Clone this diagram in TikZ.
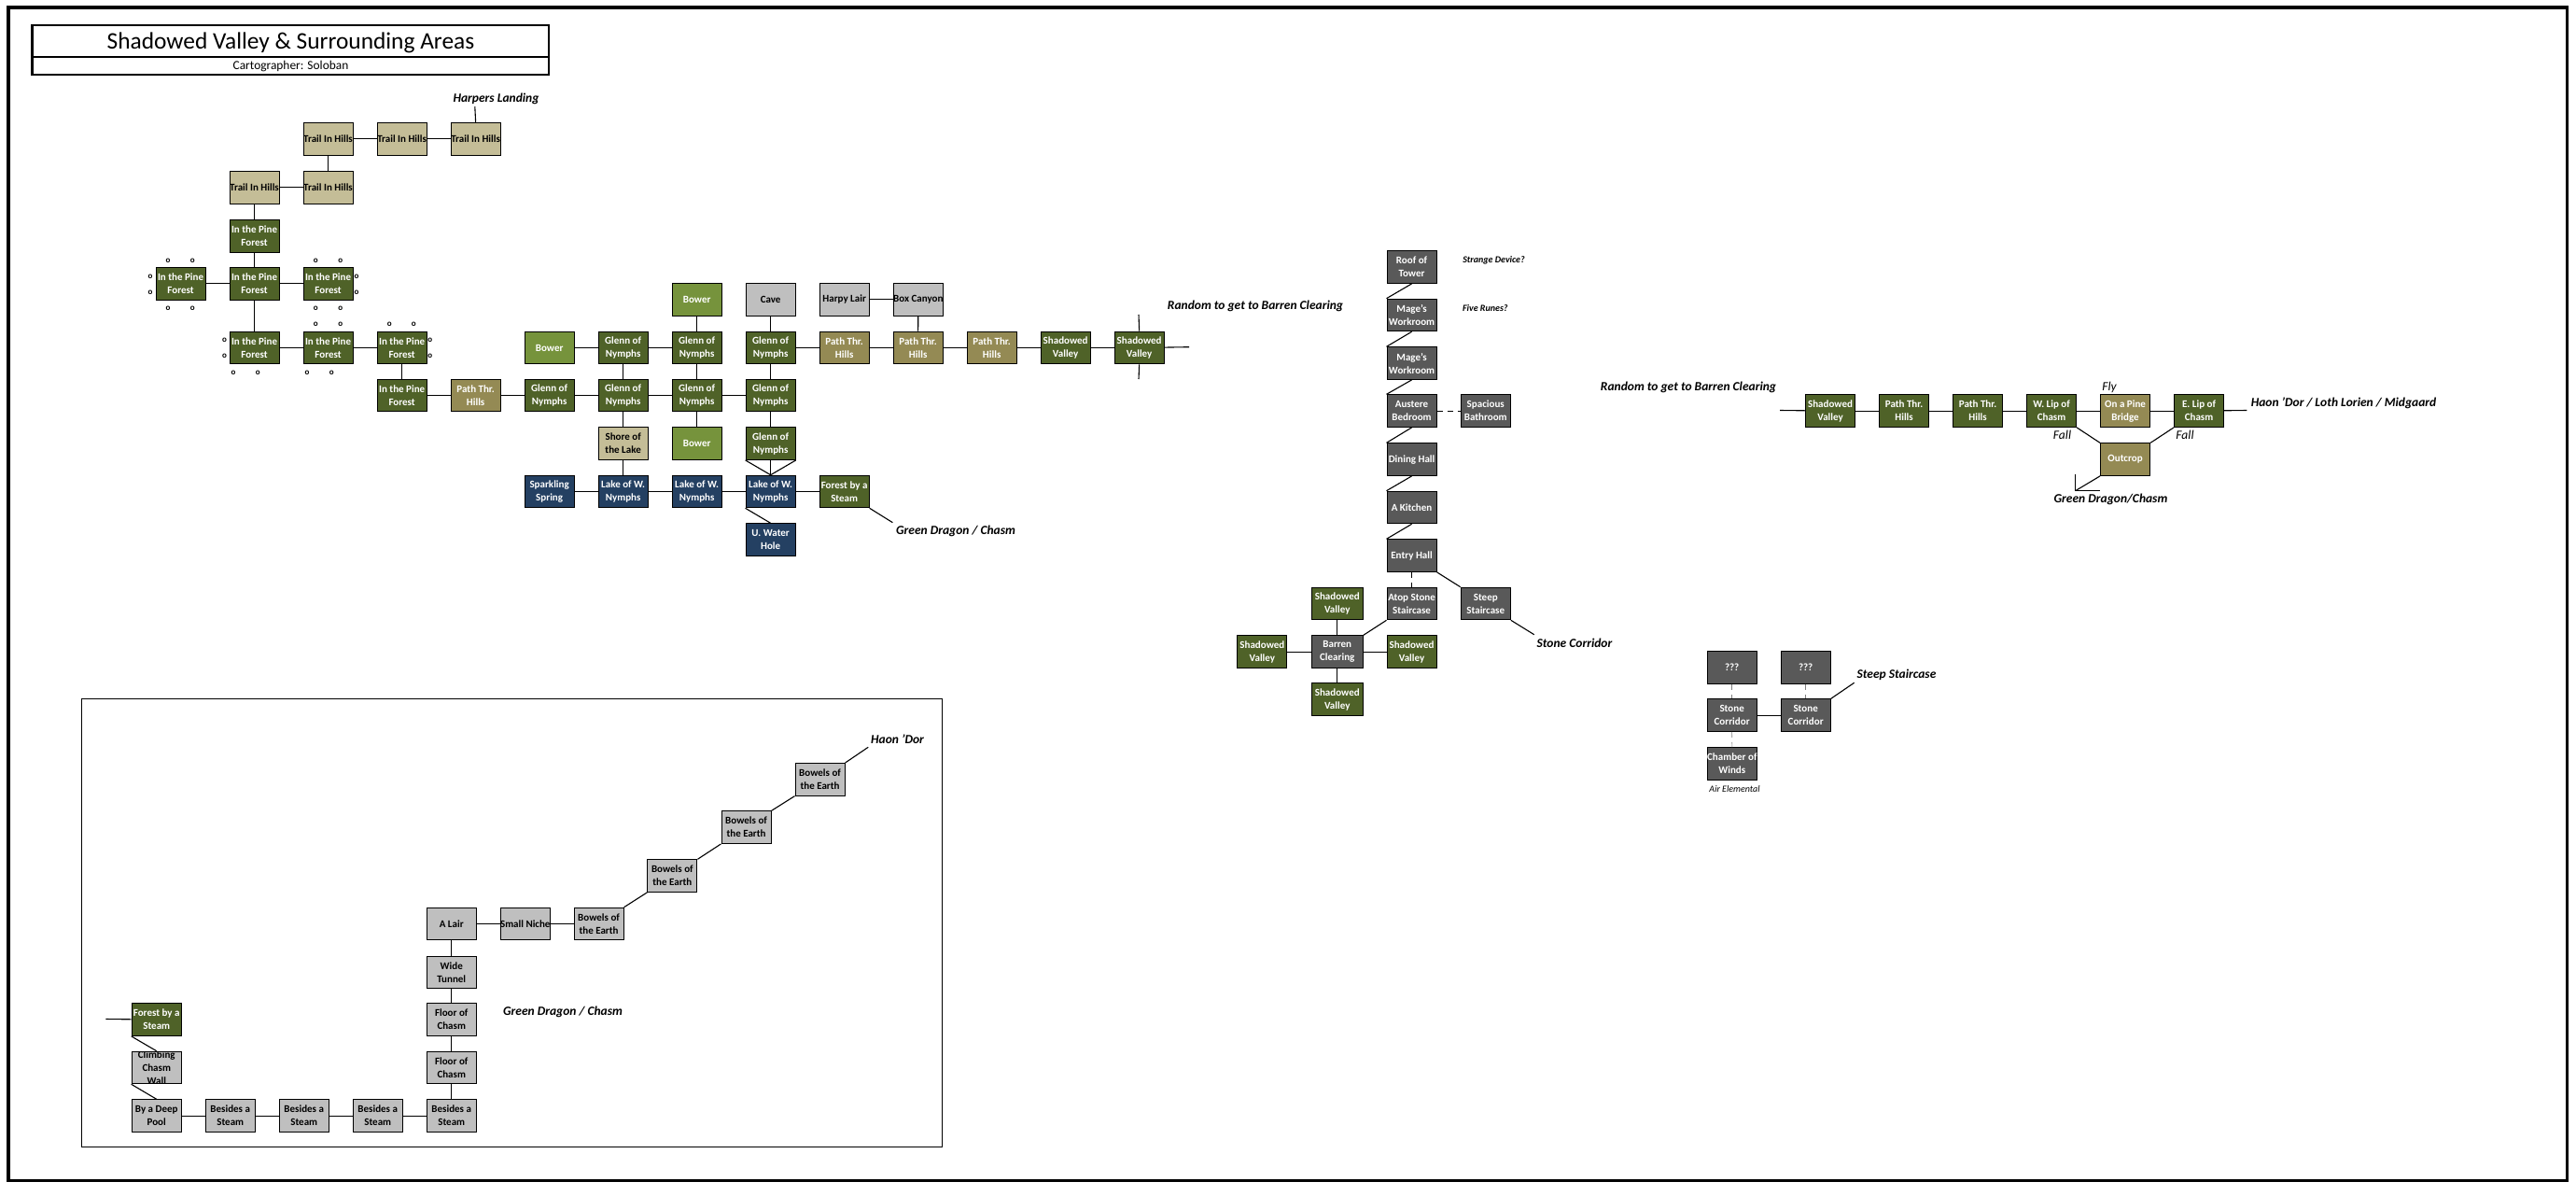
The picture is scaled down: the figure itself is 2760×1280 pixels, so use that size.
\documentclass[tikz,border=0pt]{standalone}
\usepackage{fontspec}
\setmainfont{Carlito}
\definecolor{cgreen}{HTML}{4F6228}
\definecolor{cpath}{HTML}{948A54}
\definecolor{ctrail}{HTML}{C4BD97}
\definecolor{cbower}{HTML}{76933C}
\definecolor{cgrey}{HTML}{BFBFBF}
\definecolor{cnavy}{HTML}{244062}
\definecolor{cdark}{HTML}{595959}
\tikzset{
  room/.style={draw=black,line width=1.1pt,anchor=north west,minimum width=53pt,minimum height=34.5pt,inner sep=0pt,align=center,font=\fontsize{11}{14}\selectfont\bfseries},
  green/.style={room,fill=cgreen,text=white},
  pathroom/.style={room,fill=cpath,text=white},
  trail/.style={room,fill=ctrail,text=black},
  bower/.style={room,fill=cbower,text=white},
  grey/.style={room,fill=cgrey,text=black},
  navy/.style={room,fill=cnavy,text=white},
  dark/.style={room,fill=cdark,text=white},
  link/.style={draw=black,line width=1.1pt},
  dlink/.style={draw=black,line width=1.1pt,dash pattern=on 6pt off 5pt},
  tlink/.style={draw=gray,line width=.6pt,dash pattern=on 6pt off 5pt},
  lab/.style={inner sep=0pt,font=\fontsize{13.5}{15}\selectfont\bfseries\itshape},
  slab/.style={inner sep=0pt,font=\fontsize{10}{12}\selectfont\bfseries\itshape},
  thin lab/.style={inner sep=0pt,font=\fontsize{13.5}{15}\selectfont\itshape},
  omark/.style={inner sep=0pt,font=\fontsize{9}{10}\selectfont\bfseries},
}
\begin{document}
\begin{tikzpicture}[x=1pt,y=-1pt]
\useasboundingbox (0,0) rectangle (2760,1280);
% outer frame
\draw[line width=3.5pt] (9,8) rectangle (2750.3,1264.3);
% title
\draw[line width=2.4pt] (34.5,27) rectangle (588,80);
\draw[line width=2.4pt] (34.5,61) -- (588,61);
\node[inner sep=0pt,font=\fontsize{25.4}{27}\selectfont] (title) at (311.5,45.5) {Shadowed Valley \& Surrounding Areas};
\node[inner sep=0pt,font=\fontsize{13.4}{15}\selectfont] (carto) at (311.5,70.7) {Cartographer: Soloban};
% inset frame
\draw[line width=1pt] (87.3,748.3) rectangle (1009.8,1228.7);

% ---- Main area
\node[trail] (t1) at (324.5,131) {Trail In Hills};
\node[trail] (t2) at (403.6,131) {Trail In Hills};
\node[trail] (t3) at (482.6,131) {Trail In Hills};
\node[trail] (t4) at (245.5,183) {Trail In Hills};
\node[trail] (t5) at (324.5,183) {Trail In Hills};
\node[green] (p1) at (245.5,235) {In the Pine\\Forest};
\node[green] (p2) at (166.5,286) {In the Pine\\Forest};
\node[green] (p3) at (245.5,286) {In the Pine\\Forest};
\node[green] (p4) at (324.5,286) {In the Pine\\Forest};
\node[green] (p5) at (245.5,354.7) {In the Pine\\Forest};
\node[green] (p6) at (324.5,354.7) {In the Pine\\Forest};
\node[green] (p7) at (403.6,354.7) {In the Pine\\Forest};
\node[green] (p8) at (403.6,405.7) {In the Pine\\Forest};
\node[pathroom] (h1) at (482.6,405.7) {Path Thr.\\Hills};
\node[green] (g1) at (561.6,405.7) {Glenn of\\Nymphs};
\node[green] (g2) at (640.6,405.7) {Glenn of\\Nymphs};
\node[green] (g3) at (719.6,405.7) {Glenn of\\Nymphs};
\node[green] (g4) at (798.6,405.7) {Glenn of\\Nymphs};
\node[bower] (b1) at (561.6,354.7) {Bower};
\node[green] (g5) at (640.6,354.7) {Glenn of\\Nymphs};
\node[green] (g6) at (719.6,354.7) {Glenn of\\Nymphs};
\node[green] (g7) at (798.6,354.7) {Glenn of\\Nymphs};
\node[pathroom] (h2) at (877.6,354.7) {Path Thr.\\Hills};
\node[pathroom] (h3) at (956.6,354.7) {Path Thr.\\Hills};
\node[pathroom] (h4) at (1035.6,354.7) {Path Thr.\\Hills};
\node[green] (s1) at (1114.6,354.7) {Shadowed\\Valley};
\node[green] (s2) at (1193.6,354.7) {Shadowed\\Valley};
\node[bower] (b2) at (719.6,303) {Bower};
\node[grey] (cave) at (798.6,303) {Cave};
\node[grey] (harpy) at (877.6,303) {Harpy Lair};
\node[grey] (box) at (956.6,303) {Box Canyon};
\node[trail] (shore) at (640.6,457.3) {Shore of\\the Lake};
\node[bower] (b3) at (719.6,457.3) {Bower};
\node[green] (g8) at (798.6,457.3) {Glenn of\\Nymphs};
\node[navy] (spring) at (561.6,508.7) {Sparkling\\Spring};
\node[navy] (l1) at (640.6,508.7) {Lake of W.\\Nymphs};
\node[navy] (l2) at (719.6,508.7) {Lake of W.\\Nymphs};
\node[navy] (l3) at (798.6,508.7) {Lake of W.\\Nymphs};
\node[green] (f1) at (877.6,508.7) {Forest by a\\Steam};
\node[navy] (hole) at (798.6,560.3) {U. Water\\Hole};

\coordinate (hl) at (508.8,114);
\coordinate (s2u) at (1220,337);
\coordinate (s2d) at (1220,406);
\coordinate (s2r) at (1274,371.7);
\coordinate (f1e) at (956.4,559.7);
\node[lab] (lharp) at (531.5,105.7) {Harpers Landing};
\node[lab] (lgd1) at (1024,568.7) {Green Dragon / Chasm};
\node[lab] (lrand1) at (1345,328) {Random to get to Barren Clearing};

\foreach \a/\b in {t1/t2,t2/t3,t4/t5,p2/p3,p3/p4,p5/p6,p6/p7,p8/h1,h1/g1,g1/g2,g2/g3,g3/g4,b1/g5,g5/g6,g7/h2,h2/h3,h3/h4,h4/s1,s1/s2,harpy/box,spring/l1,l1/l2,l2/l3,l3/f1}
  \draw[link] (\a) -- (\b);
\foreach \a/\b in {t1/t5,t4/p1,p1/p3,p3/p5,p7/p8,b2/g6,cave/g7,box/h3,g5/g2,g6/g3,g7/g4,g2/shore,g3/b3,g4/g8,shore/l1,g8/l3}
  \draw[link] (\a.south) -- (\b.north);
\draw[link] (g8.south west) -- (l3.north);
\draw[link] (g8.south east) -- (l3.north);
\draw[link] (l3.south west) -- (hole.north);
\draw[link] (f1.south east) -- (f1e);
\draw[link] (t3.north) -- (hl);
\draw[link] (s2.north) -- (s2u);
\draw[link] (s2.south) -- (s2d);
\draw[link] (s2) -- (s2r);

% o marks
\foreach \i/\x/\y in {1/180/279.3,2/206.3/279.3,3/161/296.3,4/161/313.3,5/180/330.3,6/206.3/330.3,
 7/338.4/279.3,8/364.7/279.3,9/382/296.3,10/382/313.3,11/338.4/330.3,12/364.7/330.3,
 13/240.6/364.7,14/240.6/381.3,15/250/399.3,16/276.3/399.3,
 17/338.4/347.3,18/364.7/347.3,19/329/399.3,20/355.4/399.3,
 21/417.4/347.3,22/443.3/347.3,23/460.7/364.7,24/460.7/381.3}
  \node[omark] (o\i) at (\x,\y) {o};

% ---- Tower
\node[dark] (roof) at (1485.5,268.3) {Roof of\\Tower};
\node[dark] (mw1) at (1485.5,319.7) {Mage's\\Workroom};
\node[dark] (mw2) at (1485.5,371.3) {Mage's\\Workroom};
\node[dark] (bed) at (1485.5,422.3) {Austere\\Bedroom};
\node[dark] (bath) at (1564.7,422.3) {Spacious\\Bathroom};
\node[dark] (din) at (1485.5,474.3) {Dining Hall};
\node[dark] (kit) at (1485.5,525.7) {A Kitchen};
\node[dark] (entry) at (1485.5,577.3) {Entry Hall};
\node[dark] (atop) at (1485.5,628.7) {Atop Stone\\Staircase};
\node[dark] (steep) at (1564.7,628.7) {Steep\\Staircase};
\node[green,minimum width=55pt] (sv1) at (1404.7,628.7) {Shadowed\\Valley};
\node[dark,minimum width=55pt] (bar) at (1404.7,680.3) {Barren\\Clearing};
\node[green] (sv2) at (1325.3,680.3) {Shadowed\\Valley};
\node[green] (sv3) at (1485.5,680.3) {Shadowed\\Valley};
\node[green,minimum width=55pt] (sv4) at (1404.7,731.3) {Shadowed\\Valley};
\coordinate (steepe) at (1643.7,679.7);
\node[slab] (ldev) at (1600.5,278.7) {Strange Device?};
\node[slab] (lrun) at (1591.3,329.7) {Five Runes?};
\node[lab] (lsc) at (1687,688.7) {Stone Corridor};
\foreach \a/\b in {roof/mw1,mw1/mw2,mw2/bed,bed/din,din/kit,kit/entry}
  \draw[link] (\a.south) -- (\b.north west);
\draw[dlink] (bed) -- (bath);
\draw[dlink] (entry.south) -- (atop.north);
\draw[link] (entry.south east) -- (steep.north west);
\draw[link] (steep.south east) -- (steepe);
\draw[link] (atop.south west) -- (bar.north east);
\draw[link] (sv1.south) -- (bar.north);
\draw[link] (sv2) -- (bar);
\draw[link] (bar) -- (sv3);
\draw[link] (bar.south) -- (sv4.north);

% ---- East road
\node[green] (e1) at (1934,422.3) {Shadowed\\Valley};
\node[green] (e2) at (2013,422.3) {Path Thr.\\Hills};
\node[green] (e3) at (2092,422.3) {Path Thr.\\Hills};
\node[green] (e4) at (2171,422.3) {W. Lip of\\Chasm};
\node[pathroom] (e5) at (2250,422.3) {On a Pine\\Bridge};
\node[green] (e6) at (2329,422.3) {E. Lip of\\Chasm};
\node[pathroom] (out) at (2250,474.3) {Outcrop};
\coordinate (el) at (1907,439.5);
\coordinate (er) at (2407.3,439.5);
\coordinate (oa) at (2223.6,525.7);
\coordinate (ob) at (2223.6,508.3);
\coordinate (oc) at (2250,525.7);
\node[lab] (lrand2) at (1809,414.7) {Random to get to Barren Clearing};
\node[lab] (lhaon2) at (2511,431.7) {Haon 'Dor / Loth Lorien / Midgaard};
\node[thin lab] (lfly) at (2260,414.7) {Fly};
\node[thin lab] (lf1) at (2209.5,465.7) {Fall};
\node[thin lab] (lf2) at (2341,465.7) {Fall};
\node[lab] (lgd2) at (2261.5,534.7) {Green Dragon/Chasm};
\draw[link] (el) -- (e1);
\foreach \a/\b in {e1/e2,e2/e3,e3/e4,e4/e5,e5/e6}
  \draw[link] (\a) -- (\b);
\draw[link] (e6) -- (er);
\draw[link] (e4.south east) -- (out.north west);
\draw[link] (e6.south west) -- (out.north east);
\draw[link] (out.south west) -- (oa);
\draw[link] (ob) -- (oa) -- (oc);

% ---- Stone corridors
\node[dark] (q1) at (1828.6,697.3) {???};
\node[dark] (q2) at (1907.6,697.3) {???};
\node[dark] (c1) at (1828.6,748.3) {Stone\\Corridor};
\node[dark] (c2) at (1907.6,748.3) {Stone\\Corridor};
\node[dark] (ch) at (1828.6,800.3) {Chamber of\\Winds};
\coordinate (c2e) at (1986.6,731.3);
\node[lab] (lss) at (2032,722.7) {Steep Staircase};
\node[slab,font=\fontsize{10}{11}\selectfont\itshape] (lair) at (1858.5,845) {Air Elemental};
\draw[tlink] (q1.south) -- (c1.north);
\draw[tlink] (q2.south) -- (c2.north);
\draw[tlink] (c1.south) -- (ch.north);
\draw[link] (c1) -- (c2);
\draw[link] (c2.north east) -- (c2e);

% ---- Inset
\node[green] (i0) at (140.7,1074.3) {Forest by a\\Steam};
\node[grey,path picture={\node[anchor=center,draw=none,align=center,font=\fontsize{11}{14}\selectfont\bfseries,text=black] (i1t) at (path picture bounding box.center) {Climbing\\Chasm\\Wall};}] (i1) at (140.7,1125.7) {};
\node[grey] (i2) at (140.7,1177.3) {By a Deep\\Pool};
\node[grey] (i3) at (219.7,1177.3) {Besides a\\Steam};
\node[grey] (i4) at (298.7,1177.3) {Besides a\\Steam};
\node[grey] (i5) at (377.7,1177.3) {Besides a\\Steam};
\node[grey] (i6) at (456.7,1177.3) {Besides a\\Steam};
\node[grey] (i7) at (456.7,1125.7) {Floor of\\Chasm};
\node[grey] (i8) at (456.7,1074.3) {Floor of\\Chasm};
\node[grey] (i9) at (456.7,1023.7) {Wide\\Tunnel};
\node[grey] (i10) at (456.7,971.7) {A Lair};
\node[grey] (i11) at (535.5,971.7) {Small Niche};
\node[grey] (i12) at (614.5,971.7) {Bowels of\\the Earth};
\node[grey] (i13) at (693.3,920.3) {Bowels of\\the Earth};
\node[grey] (i14) at (772.5,868.3) {Bowels of\\the Earth};
\node[grey] (i15) at (851.5,817) {Bowels of\\the Earth};
\coordinate (i0w) at (113.3,1091.5);
\coordinate (i15e) at (930.2,800.3);
\node[lab] (lhaon) at (961.5,791.7) {Haon 'Dor};
\node[lab] (lgd3) at (603,1083.7) {Green Dragon / Chasm};
\draw[link] (i0w) -- (i0);
\draw[link] (i0.south west) -- (i1.north);
\draw[link] (i1.south west) -- (i2.north);
\foreach \a/\b in {i2/i3,i3/i4,i4/i5,i5/i6,i10/i11,i11/i12}
  \draw[link] (\a) -- (\b);
\foreach \a/\b in {i6/i7,i7/i8,i8/i9,i9/i10}
  \draw[link] (\a.north) -- (\b.south);
\foreach \a/\b in {i12/i13,i13/i14,i14/i15}
  \draw[link] (\a.north east) -- (\b.south west);
\draw[link] (i15.north east) -- (i15e);
\end{tikzpicture}
\end{document}
